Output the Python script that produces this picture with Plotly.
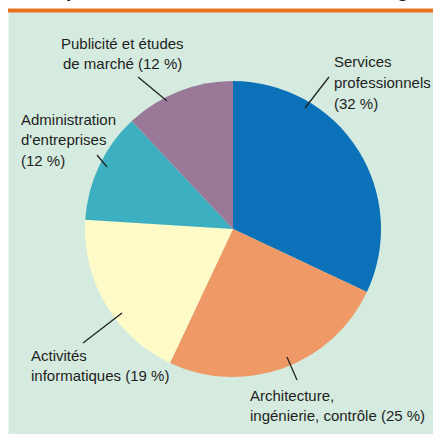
import plotly.graph_objects as go

# ---- data ----
categories = [
    "Services professionnels",
    "Architecture, ingénierie, contrôle",
    "Activités informatiques",
    "Administration d'entreprises",
    "Publicité et études de marché",
]
shares = [32, 25, 19, 12, 12]
label_lines = [
    ["Services", "professionnels", "(32 %)"],
    ["Architecture,", "ingénierie, contrôle (25 %)"],
    ["Activités", "informatiques (19 %)"],
    ["Administration", "d'entreprises", "(12 %)"],
    ["Publicité et études", "de marché (12 %)"],
]
title_text = "Les composantes de l'industrie, selon la catégorie"

# ---- styles / layout ----
colors = ["#0b72b9", "#ee9966", "#fefbc9", "#3cb0c0", "#9a7898"]
W, H = 433, 434
ML, MR, MT, MB = 85, 52, 81, 57
DW = W - ML - MR
DH = H - MT - MB
FONT = "Liberation Sans, Arial, sans-serif"
LINE_GAP = 20.5


def px(x):
    return (x - ML) / DW


def py(y):
    return (H - MB - y) / DH


# label placement (pixel): x, first-line centre y, anchor
label_pos = [
    (332, 62, "left"),
    (248, 395, "left"),
    (29, 355, "left"),
    (19, 119, "left"),
    (122, 43, "center"),
]
leaders = [
    ((329, 77), (305, 108)),
    ((287, 357), (297, 380)),
    ((122, 313), (83, 343)),
    ((97, 155), (107, 167)),
    ((138, 77), (167, 101)),
]

fig = go.Figure(
    go.Pie(
        labels=categories,
        values=shares,
        sort=False,
        direction="clockwise",
        rotation=0,
        marker=dict(colors=colors, line=dict(width=0)),
        textinfo="none",
        hoverinfo="label+percent",
        showlegend=False,
    )
)

shapes = [
    # green panel
    dict(type="rect", xref="paper", yref="paper", x0=px(8.5), x1=px(434), y0=py(434), y1=py(12),
         fillcolor="#d5ebdf", line=dict(width=0), layer="below"),
    # orange rule
    dict(type="rect", xref="paper", yref="paper", x0=px(8), x1=px(434), y0=py(12.5), y1=py(8.5),
         fillcolor="#e8731e", line=dict(width=0), layer="below"),
]
for (x0, y0), (x1, y1) in leaders:
    shapes.append(dict(type="line", xref="paper", yref="paper", x0=px(x0), y0=py(y0),
                       x1=px(x1), y1=py(y1), line=dict(color="#222222", width=1.3)))

annotations = []
for lines, (x, y, xa) in zip(label_lines, label_pos):
    for i, line in enumerate(lines):
        annotations.append(dict(
            text=line, x=px(x), y=py(y + i * LINE_GAP), xref="paper", yref="paper",
            xanchor=xa, yanchor="middle", showarrow=False,
            font=dict(family=FONT, size=15, color="#1e1e1e"),
        ))
annotations.append(dict(
    text="<b>" + title_text + "</b>", x=px(216), y=py(2.5), xref="paper", yref="paper",
    xanchor="center", yanchor="bottom", showarrow=False,
    font=dict(family=FONT, size=19, color="#1a1a1a"),
))

fig.update_layout(
    width=W, height=H,
    margin=dict(l=ML, r=MR, t=MT, b=MB, pad=0),
    paper_bgcolor="white",
    plot_bgcolor="rgba(0,0,0,0)",
    shapes=shapes,
    annotations=annotations,
)

fig.write_html(
    "out.html",
    config={"displayModeBar": False},
    post_script="document.body.style.margin='0';document.body.style.padding='0';document.body.style.overflow='hidden';",
)
